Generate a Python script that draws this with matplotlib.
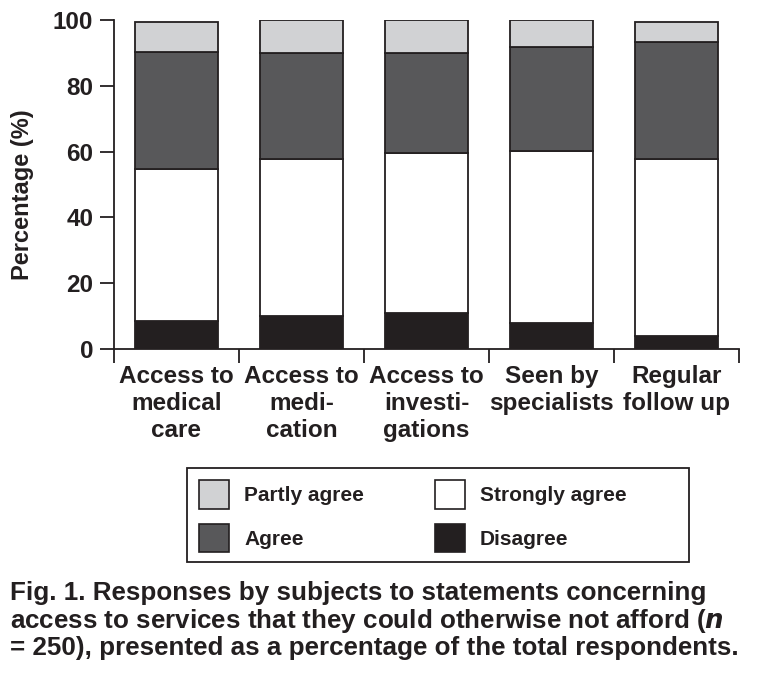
import numpy as np
import matplotlib.pyplot as plt
from matplotlib.patches import Patch, Rectangle

plt.rcParams['font.family'] = ['Liberation Sans', 'DejaVu Sans']
plt.rcParams['font.weight'] = 'bold'

categories = ['Access to\nmedical\ncare', 'Access to\nmedi-\ncation', 'Access to\ninvesti-\ngations',
              'Seen by\nspecialists', 'Regular\nfollow up']
disagree = [8.5, 10.1, 10.8, 7.8, 4.0]
strongly_agree = [46.2, 47.7, 48.7, 52.5, 53.8]
agree = [35.5, 32.2, 30.5, 31.5, 35.5]
partly_agree = [9.1, 10.0, 10.0, 8.2, 6.0]

ink = '#231f20'
c_partly = '#d1d2d4'
c_agree = '#58585a'
c_strong = '#ffffff'
c_dis = '#231f20'

W, H = 758, 681
fig = plt.figure(figsize=(W / 100, H / 100), dpi=100)
ax = fig.add_axes([114 / W, 1 - 349 / H, 625 / W, 329 / H])

x = np.arange(len(categories))
w = 0.67
bottom = np.zeros(len(categories))
for vals, col in [(disagree, c_dis), (strongly_agree, c_strong), (agree, c_agree), (partly_agree, c_partly)]:
    ax.bar(x, vals, w, bottom=bottom, color=col, edgecolor=ink, linewidth=1.3)
    bottom += np.array(vals)

ax.set_xlim(-0.5, len(categories) - 0.5)
ax.set_ylim(0, 100)
ax.spines['top'].set_visible(False)
ax.spines['right'].set_visible(False)
for s in ['left', 'bottom']:
    ax.spines[s].set_color(ink)
    ax.spines[s].set_linewidth(1.3)
ax.set_yticks([0, 20, 40, 60, 80, 100])
ax.tick_params(axis='y', labelsize=17.5, length=10, width=1.3, pad=5, color=ink, labelcolor=ink)

# category separators as x ticks
ax.set_xticks(np.arange(len(categories) + 1) - 0.5)
ax.set_xticklabels([])
ax.tick_params(axis='x', length=10, width=1.3, color=ink)
for i, lab in enumerate(categories):
    ax.text(i, -4.8, lab, ha='center', va='top', fontsize=17.5, fontweight='bold',
            color=ink, linespacing=1.22)

ax.set_ylabel('Percentage (%)', fontsize=17, fontweight='bold', color=ink)
ax.yaxis.set_label_coords(-80 / 625, 0.47)

# legend: frame drawn separately so it can be wider than the entries
fig.patches.append(Rectangle((187 / W, 1 - 562 / H), 502 / W, 94 / H, transform=fig.transFigure,
                             facecolor='none', edgecolor=ink, linewidth=1.3))
handles = [Patch(facecolor=c_partly, edgecolor=ink, linewidth=1.2, label='Partly agree'),
           Patch(facecolor=c_agree, edgecolor=ink, linewidth=1.2, label='Agree'),
           Patch(facecolor=c_strong, edgecolor=ink, linewidth=1.2, label='Strongly agree'),
           Patch(facecolor=c_dis, edgecolor=ink, linewidth=1.2, label='Disagree')]
leg = fig.legend(handles=handles, ncol=2, loc='upper left',
                 bbox_to_anchor=(199 / W, 1 - 480 / H), fontsize=15,
                 frameon=False, borderpad=0, borderaxespad=0,
                 handlelength=1.44, handleheight=1.73, columnspacing=3.4,
                 labelspacing=0.72, handletextpad=0.72)
for t in leg.get_texts():
    t.set_color(ink)

caption = ('Fig. 1. Responses by subjects to statements concerning\n'
           'access to services that they could otherwise not afford ($\\mathbfit{n}$\n'
           '= 250), presented as a percentage of the total respondents.')
fig.text(10 / W, 1 - 581 / H, caption, ha='left', va='top', fontsize=18.7,
         fontweight='bold', color=ink, linespacing=1.08)

fig.savefig('out.png', dpi=100)
